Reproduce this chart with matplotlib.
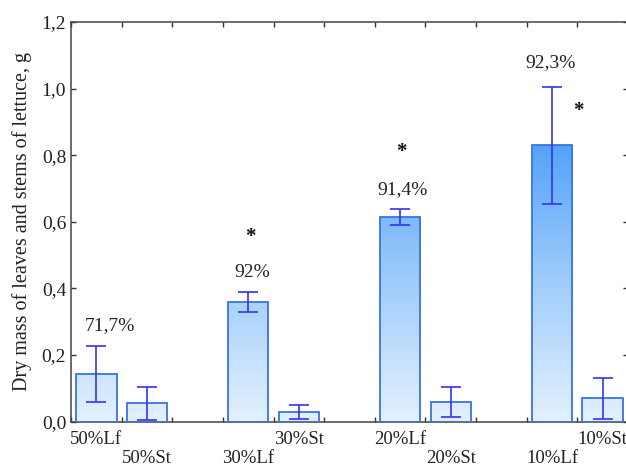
import numpy as np
import matplotlib
matplotlib.use("Agg")
import matplotlib.pyplot as plt
from matplotlib.colors import LinearSegmentedColormap

plt.rcParams['font.family'] = ['Liberation Serif', 'DejaVu Serif']

# data
labels = ["50%Lf", "50%St", "30%Lf", "30%St", "20%Lf", "20%St", "10%Lf", "10%St"]
slots = [0, 1, 3, 4, 6, 7, 9, 10]
means = [0.143, 0.055, 0.359, 0.030, 0.615, 0.058, 0.830, 0.070]
errs = [0.084, 0.050, 0.029, 0.021, 0.024, 0.045, 0.175, 0.061]
label_row = [0, 1, 1, 0, 0, 1, 1, 0]   # 0 = upper row, 1 = lower row

pct_text = ["71,7%", "92%", "91,4%", "92,3%"]
pct_x = [0.27, 3.08, 6.04, 8.97]
pct_y = [0.287, 0.449, 0.698, 1.079]
star_x = [3.04, 6.02, 9.52]
star_y = [0.554, 0.81, 0.932]

fig = plt.figure(figsize=(6.26, 4.66), dpi=100)
ax = fig.add_axes([0.1134, 0.0951, 0.8898, 0.8577])

cmap = LinearSegmentedColormap.from_list("bl", ["#e4f1ff", "#9ccbfb", "#4a9ef8"])
bars = ax.bar(slots, means, width=0.8, color="none", edgecolor="#3a74de", linewidth=1.3, zorder=3)
grad = np.linspace(0, 1, 256).reshape(-1, 1)
for b in bars:
    im = ax.imshow(grad, cmap=cmap, origin="lower", aspect="auto",
                   extent=[-0.5, 10.5, 0, 0.88], zorder=2, vmin=0, vmax=1)
    im.set_clip_path(b)

ax.errorbar(slots, means, yerr=errs, fmt="none", ecolor="#3434ec", elinewidth=1.2,
            capsize=7.5, capthick=1.2, zorder=4)

for t, x, y in zip(pct_text, pct_x, pct_y):
    ax.text(x, y, t, ha="center", va="center", fontsize=14, color="#222222")
for x, y in zip(star_x, star_y):
    ax.text(x, y, "*", ha="center", va="center", fontsize=15, fontweight="bold", color="#111111")

for s, lab, r in zip(slots, labels, label_row):
    ax.annotate(lab, xy=(s, 0), xycoords=("data", "axes fraction"),
                xytext=(0, -13 - 13.5 * r), textcoords="offset points",
                ha="center", va="center", fontsize=13.5, color="#222222",
                annotation_clip=False)

ax.set_xlim(-0.5, 10.5)
ax.set_ylim(0, 1.2)
ax.set_xticks(np.arange(-0.5, 11, 1))
ax.set_xticklabels([])
ax.set_yticks(np.arange(0, 1.21, 0.2))
ax.set_yticklabels(["0,0", "0,2", "0,4", "0,6", "0,8", "1,0", "1,2"])
ax.tick_params(direction="in", length=3.5, width=1, color="#333333",
               top=True, right=True, labelsize=14, labelcolor="#222222")
for sp in ax.spines.values():
    sp.set_color("#444444")
    sp.set_linewidth(1.1)

ax.set_ylabel("Dry mass of leaves and stems of lettuce, g", fontsize=14.5, color="#222222", labelpad=7)

fig.savefig("out.png", dpi=100)
